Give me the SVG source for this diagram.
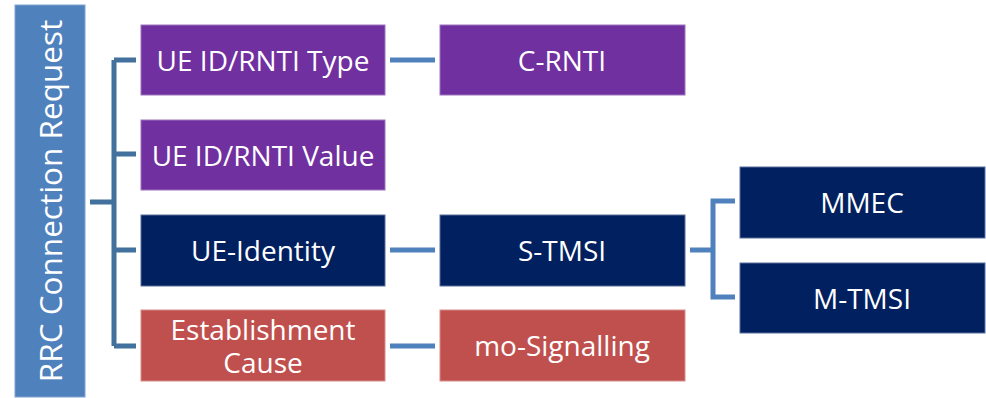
<svg xmlns="http://www.w3.org/2000/svg" width="986" height="398" viewBox="0 0 986 398">
<style>
.t{font-family:"Open Sans","Liberation Sans",sans-serif;font-size:28px;fill:#fff;text-anchor:middle;dominant-baseline:central}
.r{font-size:31.5px}
.purple{fill:#7030A0;stroke:#9C74BC;stroke-width:1}
.navy{fill:#002060;stroke:#5A6F9A;stroke-width:1}
.red{fill:#C0504D;stroke:#D88C8A;stroke-width:1}
.c1{fill:none;stroke:#41719C;stroke-width:5}
.c2{fill:none;stroke:#4F81BD;stroke-width:5}
</style>
<rect width="986" height="398" fill="#fff"/>
<g id="connectors">
<path class="c1" d="M90 202 H114 M114 60 V346 M114 60 H136 M114 154 H136 M114 250 H136 M114 346 H136"/>
<path class="c2" d="M390 60 H435 M390 250 H435 M390 346 H435"/>
<path class="c2" d="M690 250 H713 M735 201 H713 V297 H735"/>
</g>
<g id="root">
<rect x="15" y="5" width="70" height="392" fill="#4F81BD" stroke="#7FA3D0" stroke-width="1"/>
<text class="t r" transform="translate(49 201) rotate(-90)">RRC Connection Request</text>
</g>
<g id="ue-id-type"><rect class="purple" x="141" y="25" width="244" height="70"/><text class="t" x="263" y="60">UE ID/RNTI Type</text></g>
<g id="ue-id-value"><rect class="purple" x="141" y="120" width="244" height="70"/><text class="t" x="263" y="155">UE ID/RNTI Value</text></g>
<g id="ue-identity"><rect class="navy" x="141" y="215" width="244" height="71"/><text class="t" x="263" y="250">UE-Identity</text></g>
<g id="est-cause"><rect class="red" x="141" y="310" width="244" height="71"/><text class="t" x="263" y="329">Establishment</text><text class="t" x="263" y="362">Cause</text></g>
<g id="c-rnti"><rect class="purple" x="440" y="25" width="245" height="70"/><text class="t" x="562" y="60">C-RNTI</text></g>
<g id="s-tmsi"><rect class="navy" x="440" y="215" width="245" height="71"/><text class="t" x="562" y="250">S-TMSI</text></g>
<g id="mo-signalling"><rect class="red" x="440" y="310" width="245" height="71"/><text class="t" x="562" y="345">mo-Signalling</text></g>
<g id="mmec"><rect class="navy" x="740" y="167" width="245" height="71"/><text class="t" x="862" y="202">MMEC</text></g>
<g id="m-tmsi"><rect class="navy" x="740" y="263" width="245" height="70"/><text class="t" x="862" y="298">M-TMSI</text></g>
</svg>
